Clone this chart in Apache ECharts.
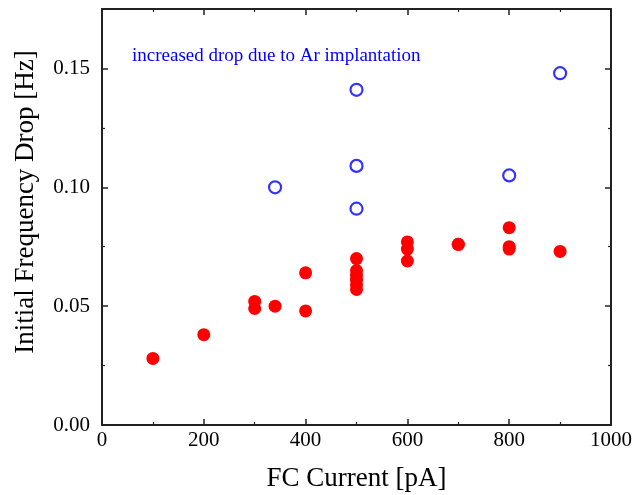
<!DOCTYPE html>
<html>
<head>
<meta charset="utf-8">
<script src="https://cdn.jsdelivr.net/npm/echarts@6/dist/echarts.min.js"></script>
<style>html,body{margin:0;padding:0;background:#fff}#c{width:635px;height:495px}</style>
</head>
<body>
<div id="c"></div>
<script>
var redX = [100, 200, 300, 300, 340, 400, 400, 500, 500, 500, 500, 500, 500, 600, 600, 600, 700, 700, 800, 800, 800, 900];
var redY = [0.028, 0.038, 0.052, 0.049, 0.050, 0.064, 0.048, 0.070, 0.065, 0.063, 0.061, 0.059, 0.057, 0.077, 0.074, 0.069, 0.076, 0.076, 0.083, 0.075, 0.074, 0.073];
var blueX = [340, 500, 500, 500, 800, 900];
var blueY = [0.100, 0.141, 0.109, 0.091, 0.105, 0.148];
var xTicks = [0, 200, 400, 600, 800, 1000];
var yTicks = ['0.00', '0.05', '0.10', '0.15'];
var xName = 'FC Current [pA]';
var yName = 'Initial Frequency Drop [Hz]';
var note = 'increased drop due to Ar implantation';

function zip(a, b) { return a.map(function (v, i) { return [v, b[i]]; }); }

var font = 'Liberation Serif';
var axisCol = '#222';
var chart = echarts.init(document.getElementById('c'), null, {renderer: 'canvas'});
var common = {
  axisLine: {show: true, onZero: false, lineStyle: {color: axisCol, width: 2}},
  axisTick: {show: true, inside: true, length: 6, lineStyle: {color: axisCol, width: 1.5}},
  minorTick: {show: true, splitNumber: 2, length: 3, lineStyle: {color: axisCol, width: 1.2}},
  splitLine: {show: false}
};
function xa(pos, show) {
  return Object.assign({}, JSON.parse(JSON.stringify(common)), {
    type: 'value', position: pos, min: 0, max: 1000, interval: 200,
    name: show ? xName : '', nameLocation: 'middle', nameGap: 40,
    nameTextStyle: {fontFamily: font, fontSize: 27, color: '#000'},
    axisLabel: {show: show, fontFamily: font, fontSize: 21, color: '#000', margin: 5,
      formatter: function (v) { return xTicks.indexOf(v) >= 0 ? String(v) : ''; }}
  });
}
function ya(pos, show) {
  return Object.assign({}, JSON.parse(JSON.stringify(common)), {
    type: 'value', position: pos, min: 0, max: 0.175, interval: 0.05,
    axisLabel: {show: show, fontFamily: font, fontSize: 21, color: '#000', margin: 12,
      showMaxLabel: false,
      formatter: function (v) { var i = Math.round(v / 0.05); return (Math.abs(v - i * 0.05) < 1e-9 && yTicks[i]) ? yTicks[i] : ''; }}
  });
}
chart.setOption({
  animation: false,
  backgroundColor: '#fff',
  grid: {left: 102, right: 24, top: 9, bottom: 70, show: false, outerBoundsMode: 'none', containLabel: false},
  xAxis: [xa('bottom', true), xa('top', false)],
  yAxis: [ya('left', true), ya('right', false)],
  graphic: [{
    type: 'text', left: 132, top: 47,
    style: {text: note, fill: '#0000ff', font: '19px "Liberation Serif"'}
  }, {
    type: 'text', x: 26, y: 202, rotation: Math.PI / 2,
    style: {text: yName, fill: '#000', font: '27px "Liberation Serif"', align: 'center', verticalAlign: 'middle'}
  }],
  series: [
    {type: 'scatter', xAxisIndex: 0, yAxisIndex: 0, data: zip(redX, redY), symbol: 'circle', symbolSize: 13,
     itemStyle: {color: '#ff0000', opacity: 1}},
    {type: 'scatter', xAxisIndex: 0, yAxisIndex: 0, data: zip(blueX, blueY), symbol: 'circle', symbolSize: 12,
     itemStyle: {color: 'rgba(255,255,255,0)', borderColor: '#0000ff', borderWidth: 2.2}}
  ]
});
</script>
</body>
</html>
